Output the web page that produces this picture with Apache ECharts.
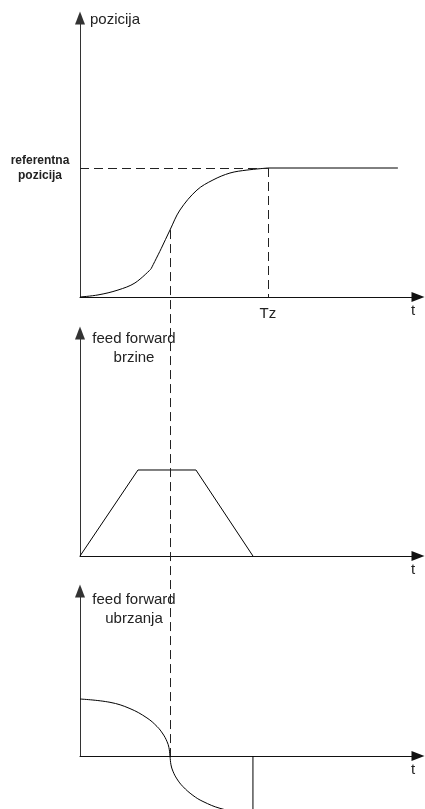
<!DOCTYPE html>
<html>
<head>
<meta charset="utf-8">
<script src="https://cdn.jsdelivr.net/npm/echarts@6/dist/echarts.min.js"></script>
<style>
  html, body { margin: 0; padding: 0; background: #fff; }
  #chart { width: 425px; height: 809px; }
</style>
</head>
<body>
<div id="chart"></div>
<script>
// Shared time scale (arbitrary units)
const T_MAX = 5.83;
const T_CROSS = 1.552;   // peak velocity / zero acceleration
const T_Z = 3.241;       // settling time Tz
const REF_POS = 1;       // reference position level

// Position response: convex start, concave approach, then holding the reference
const posEarlyT = [0, 0.31, 0.655, 0.948, 1.224];
const posEarlyV = [0, 0.016, 0.054, 0.109, 0.217];
const posLateT = [1.224, 1.40, 1.552, 1.724, 2.017, 2.293, 2.586, 2.879, 3.241];
const posLateV = [0.217, 0.375, 0.519, 0.674, 0.829, 0.907, 0.961, 0.984, 1.0];
const posHoldT = [3.241, 5.483];
const posHoldV = [1.0, 1.0];

// Velocity feed forward (trapezoid)
const velT = [0, 1.0, 2.0, 2.983];
const velV = [0, 1, 1, 0];

// Acceleration feed forward
const accT = [0, 0.517, 0.862, 1.155, 1.328, 1.431, 1.500, 1.534, 1.552,
              1.569, 1.603, 1.672, 1.776, 1.948, 2.121, 2.414, 2.759, 2.983];
const accV = [1.0, 0.942, 0.832, 0.668, 0.518, 0.386, 0.256, 0.148, 0,
              -0.154, -0.267, -0.402, -0.537, -0.691, -0.798, -0.918, -0.988, -1.0];
const accStepT = [2.983, 2.983];
const accStepV = [-1.0, 0];

// Axis texts
const yNames = ['pozicija', 'feed forward\nbrzine', 'feed forward\nubrzanja'];
const xName = 't';
const refLabel = 'referentna\npozicija';
const tzLabel = 'Tz';

const FONT = 'Liberation Sans, Arial, sans-serif';
const INK = '#222';

const pairs = (xs, ys) => xs.map((x, i) => [x, ys[i]]);

const grids = [
  { left: 80, width: 338, top: 18, height: 279, yMax: 2.163, nameGap: -2 },
  { left: 80, width: 338, top: 333, height: 223, yMax: 2.593, nameGap: 3.5 },
  { left: 80, width: 338, top: 591, height: 165, yMax: 2.895, nameGap: 0.5 }
];

const arrowAxisLine = (color) => ({
  show: true,
  symbol: ['none', 'triangle'],
  symbolSize: [10, 13],
  lineStyle: { color: color, width: 1 }
});

const curve = (xIdx, xs, ys, extra) => Object.assign({
  type: 'line', xAxisIndex: xIdx, yAxisIndex: xIdx,
  data: pairs(xs, ys),
  showSymbol: false, silent: true,
  lineStyle: { color: '#000', width: 1 }
}, extra || {});

const option = {
  animation: false,
  backgroundColor: '#fff',
  grid: grids.map(g => ({
    left: g.left, width: g.width, top: g.top, height: g.height,
    containLabel: false, outerBoundsMode: 'none'
  })),
  xAxis: grids.map((g, i) => ({
    type: 'value', gridIndex: i, min: 0, max: T_MAX,
    axisLine: arrowAxisLine('#111'),
    axisTick: { show: false },
    splitLine: { show: false },
    axisLabel: i === 0 ? {
      show: true, customValues: [T_Z], formatter: () => tzLabel,
      margin: 9, color: INK, fontFamily: FONT, fontSize: 15
    } : { show: false },
    name: xName, nameLocation: 'end', nameGap: -5, nameMoveOverlap: false,
    nameTextStyle: {
      color: INK, fontFamily: FONT, fontSize: 15,
      align: 'center', verticalAlign: 'top', padding: [6, 0, 0, 0]
    }
  })),
  yAxis: grids.map((g, i) => ({
    type: 'value', gridIndex: i, min: 0, max: g.yMax,
    axisLine: arrowAxisLine('#333'),
    axisTick: { show: false },
    splitLine: { show: false },
    axisLabel: i === 0 ? {
      show: true, customValues: [REF_POS], formatter: () => refLabel,
      margin: 40, align: 'center', verticalAlign: 'middle',
      color: INK, fontFamily: FONT, fontSize: 12, fontWeight: 'bold', lineHeight: 15
    } : { show: false },
    name: yNames[i], nameLocation: 'end', nameGap: g.nameGap, nameMoveOverlap: false,
    nameTextStyle: i === 0 ? {
      color: INK, fontFamily: FONT, fontSize: 15,
      align: 'left', verticalAlign: 'middle', padding: [0, 0, 0, 10]
    } : {
      color: INK, fontFamily: FONT, fontSize: 15, lineHeight: 19,
      align: 'center', verticalAlign: 'top', padding: [0, 0, 0, 108]
    }
  })),
  series: [
    curve(0, posEarlyT, posEarlyV, { smooth: 0.35 }),
    curve(0, posLateT, posLateV, {
      smooth: 0.35,
      markLine: {
        silent: true, symbol: ['none', 'none'], label: { show: false },
        emphasis: { disabled: true },
        lineStyle: { color: INK, width: 1, type: [9, 5] },
        data: [
          [{ coord: [0, REF_POS] }, { coord: [T_Z, REF_POS] }],
          [{ coord: [T_Z, REF_POS] }, { coord: [T_Z, 0] }]
        ]
      }
    }),
    curve(0, posHoldT, posHoldV),
    curve(1, velT, velV),
    curve(2, accT, accV, { smooth: 0.4, clip: false }),
    curve(2, accStepT, accStepV, { clip: false })
  ]
};

const chart = echarts.init(document.getElementById('chart'), null, { renderer: 'canvas' });
chart.setOption(option);

// Dashed guide through all three panels at the inflection time
const crossPos = posLateV[posLateT.indexOf(T_CROSS)];
const pTop = chart.convertToPixel({ gridIndex: 0 }, [T_CROSS, crossPos]);
const pBottom = chart.convertToPixel({ gridIndex: 2 }, [T_CROSS, 0]);
const gx = Math.round(pTop[0]) + 0.5;
chart.setOption({
  graphic: [{
    type: 'line', silent: true, z: 5,
    shape: { x1: gx, y1: pTop[1], x2: gx, y2: pBottom[1] },
    style: { stroke: INK, lineWidth: 1, lineDash: [9, 5] }
  }]
});
</script>
</body>
</html>
